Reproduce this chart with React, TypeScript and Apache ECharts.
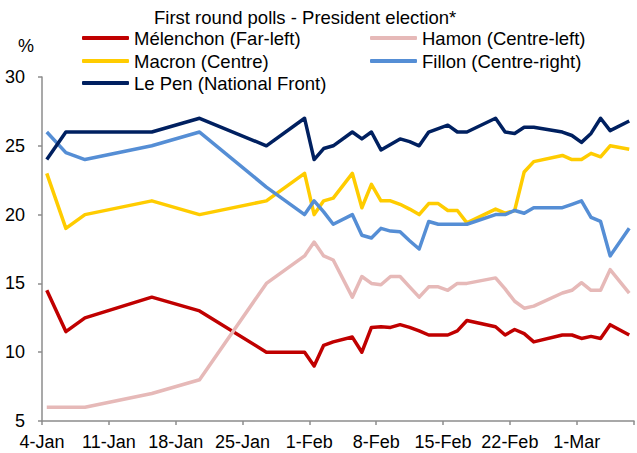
import React, { useEffect, useRef } from "react";
import * as echarts from "echarts";

const startDate = "2017-01-04";
const pollDates = [
  "2017-01-04", "2017-01-06", "2017-01-08", "2017-01-15", "2017-01-20", "2017-01-27",
  "2017-01-31", "2017-02-01", "2017-02-02", "2017-02-03", "2017-02-05", "2017-02-06",
  "2017-02-07", "2017-02-08", "2017-02-09", "2017-02-10", "2017-02-11", "2017-02-12",
  "2017-02-13", "2017-02-14", "2017-02-15", "2017-02-16", "2017-02-17", "2017-02-20",
  "2017-02-21", "2017-02-22", "2017-02-23", "2017-02-24", "2017-02-27", "2017-02-28",
  "2017-03-01", "2017-03-02", "2017-03-03", "2017-03-04", "2017-03-06",
];

const melenchon = [14.5, 11.5, 12.5, 14, 13, 10, 10, 9, 10.5, 10.75, 11.1, 10, 11.8, 11.85, 11.8, 12, 11.8, 11.55, 11.25, 11.25, 11.25, 11.55, 12.3, 11.85, 11.25, 11.65, 11.35, 10.75, 11.25, 11.25, 11, 11.15, 11, 12, 11.25];
const hamon = [6, 6, 6, 7, 8, 15, 17, 18, 17, 16.7, 14, 15.5, 15, 14.9, 15.5, 15.5, 14.75, 14, 14.75, 14.75, 14.5, 15, 15, 15.4, 14.6, 13.7, 13.2, 13.35, 14.3, 14.5, 15.05, 14.5, 14.5, 16, 14.3];
const macron = [23, 19, 20, 21, 20, 21, 23, 20, 21, 21.2, 23, 20.5, 22.2, 21, 21, 20.75, 20.4, 20, 20.8, 20.8, 20.3, 20.3, 19.4, 20.4, 20.1, 20.3, 23.1, 23.85, 24.3, 24, 24, 24.45, 24.2, 25, 24.75];
const fillon = [26, 24.5, 24, 25, 26, 22, 20, 21, 20.2, 19.3, 20, 18.5, 18.3, 19, 18.8, 18.75, 18.1, 17.5, 19.5, 19.3, 19.3, 19.3, 19.3, 20, 20, 20.3, 20.1, 20.5, 20.5, 20.75, 21, 19.8, 19.5, 17, 19];
const lepen = [24, 26, 26, 26, 27, 25, 27, 24, 24.8, 25, 26, 25.5, 26, 24.7, 25.1, 25.5, 25.3, 25, 26, 26.25, 26.5, 26, 26, 27, 26, 25.9, 26.35, 26.35, 26, 25.75, 25.25, 25.9, 27, 26.1, 26.8];

const seriesNames = [
  "Mélenchon (Far-left)",
  "Hamon (Centre-left)",
  "Macron (Centre)",
  "Fillon (Centre-right)",
  "Le Pen (National Front)",
];
const seriesValues = [melenchon, hamon, macron, fillon, lepen];
const seriesColors = ["#C00000", "#E6B9B8", "#FFCC00", "#558ED5", "#002060"];

const xTickLabels = ["4-Jan", "11-Jan", "18-Jan", "25-Jan", "1-Feb", "8-Feb", "15-Feb", "22-Feb", "1-Mar"];
const yTicks = { min: 5, max: 30, step: 5 };
const titleText = "First round polls - President election*";

const FONT = "'Liberation Sans', Arial, sans-serif";
const DAY = 86400000;
const dayOf = (d: string) => Math.round((Date.parse(d) - Date.parse(startDate)) / DAY);

export default function App() {
  const ref = useRef<HTMLDivElement>(null);
  useEffect(() => {
    if (!ref.current) return;
    const chart = echarts.init(ref.current, undefined, { renderer: "svg" });
    const axisColor = "#8c8c8c";
    const legendPos = [
      { left: 82, top: 27 },
      { left: 370, top: 27 },
      { left: 82, top: 50 },
      { left: 370, top: 50 },
      { left: 82, top: 72 },
    ];
    chart.setOption({
      animation: false,
      title: {
        text: titleText,
        left: 154,
        top: 6,
        padding: 0,
        textStyle: { fontSize: 18.5, fontWeight: "normal", color: "#000", fontFamily: FONT, lineHeight: 22 },
      },
      legend: seriesNames.map((n, i) => ({
        data: [n],
        left: legendPos[i].left,
        top: legendPos[i].top,
        padding: 0,
        icon: "roundRect",
        itemWidth: 47,
        itemHeight: 4,
        selectedMode: false,
        textStyle: { fontSize: 18.5, color: "#000", fontFamily: FONT, lineHeight: 22 },
      })),
      graphic: [
        {
          type: "text",
          left: 18,
          top: 37,
          style: { text: "%", fontSize: 18, fill: "#000", fontFamily: FONT },
        },
      ],
      grid: { left: 42, right: 0, top: 77, bottom: 32, containLabel: false },
      xAxis: {
        type: "value",
        min: 0,
        max: 62,
        interval: 7,
        splitLine: { show: false },
        axisLine: { show: true, lineStyle: { color: axisColor, width: 1.5 } },
        axisTick: { show: true, length: 4, lineStyle: { color: axisColor, width: 1.5 } },
        axisLabel: {
          margin: 12,
          fontSize: 18,
          color: "#000",
          fontFamily: FONT,
          formatter: (v: number) => (v % 7 === 0 && v / 7 < xTickLabels.length ? xTickLabels[v / 7] : ""),
        },
      },
      yAxis: {
        type: "value",
        min: yTicks.min,
        max: yTicks.max,
        interval: yTicks.step,
        splitLine: { show: false },
        axisLine: { show: true, lineStyle: { color: axisColor, width: 1.5 } },
        axisTick: { show: true, length: 4, lineStyle: { color: axisColor, width: 1.5 } },
        axisLabel: { margin: 17, fontSize: 18, color: "#000", fontFamily: FONT },
      },
      series: seriesNames.map((n, i) => ({
        name: n,
        type: "line",
        showSymbol: false,
        symbol: "none",
        data: pollDates.map((d, j) => [dayOf(d) + 0.5, seriesValues[i][j]]),
        lineStyle: { width: 3.5, color: seriesColors[i], join: "round" },
        itemStyle: { color: seriesColors[i] },
        color: seriesColors[i],
        z: 2 + i,
      })),
    });
    return () => chart.dispose();
  }, []);
  return <div ref={ref} style={{ position: "absolute", left: 0, top: 0, width: 637, height: 453 }} />;
}
